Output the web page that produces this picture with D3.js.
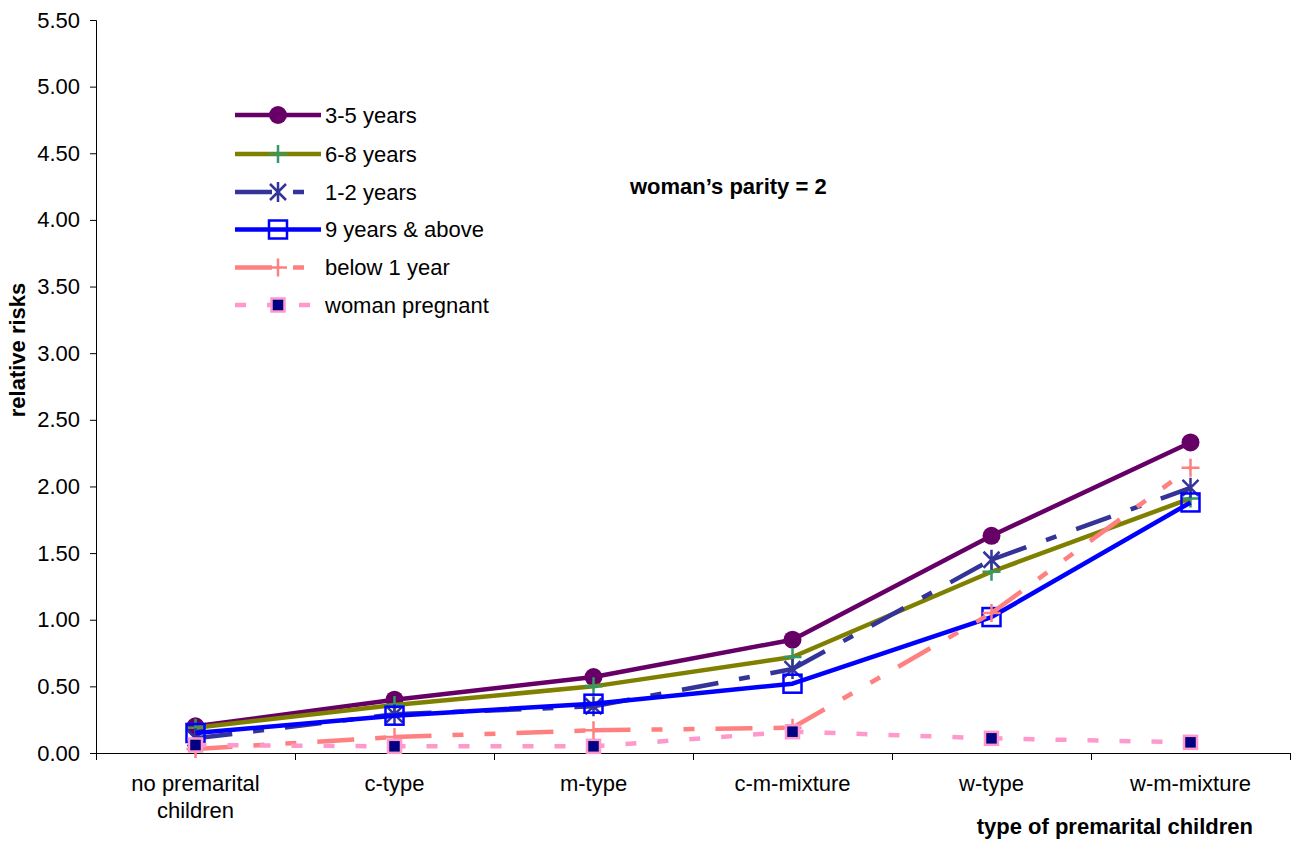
<!DOCTYPE html>
<html>
<head>
<meta charset="utf-8">
<script src="https://cdn.jsdelivr.net/npm/d3@7"></script>
<style>
  html, body { margin: 0; padding: 0; background: #fff; }
  svg { display: block; font-family: "Liberation Sans", Arial, sans-serif; }
</style>
</head>
<body>
<svg id="chart" width="1299" height="843"></svg>
<script>
// Categories along the x axis (multi-line labels split on "\n")
const categories = ["no premarital\nchildren", "c-type", "m-type", "c-m-mixture", "w-type", "w-m-mixture"];

// Relative risks by duration since birth of last child
const years3to5    = [0.20, 0.40, 0.57, 0.85, 1.63, 2.33];
const years6to8    = [0.19, 0.36, 0.50, 0.72, 1.36, 1.91];
const years1to2    = [0.11, 0.29, 0.35, 0.63, 1.45, 1.99];
const years9plus   = [0.15, 0.28, 0.37, 0.52, 1.02, 1.88];
const below1year   = [0.03, 0.12, 0.17, 0.19, 1.05, 2.14];
const womanPregnant= [0.06, 0.05, 0.05, 0.16, 0.11, 0.08];

const seriesNames = ["3-5 years", "6-8 years", "1-2 years", "9 years & above", "below 1 year", "woman pregnant"];

const yTicks = [0, 0.5, 1, 1.5, 2, 2.5, 3, 3.5, 4, 4.5, 5, 5.5];

const styles = [
  { color: "#660066", dash: null,                   marker: "circle" },
  { color: "#808000", dash: null,                   marker: "plus",   mcolor: "#339966" },
  { color: "#333399", dash: "37,21,11,21",          marker: "star" },
  { color: "#0000FF", dash: null,                   marker: "square" },
  { color: "#FF8080", dash: "37,21,11,21,11,21",    marker: "plus",   mcolor: "#FF8080" },
  { color: "#FF99CC", dash: "11,21",                marker: "filled", mcolor: "#000080" }
];

const series = [years3to5, years6to8, years1to2, years9plus, below1year, womanPregnant];

const svg = d3.select("#chart");
const FONT = 22;

const x = d3.scaleBand().domain(categories).range([96, 1290]);
const xc = c => x(c) + x.bandwidth() / 2;
const y = d3.scaleLinear().domain([0, 5.5]).range([753, 20]);

// y axis
const yAxis = d3.axisLeft(y).tickValues(yTicks).tickFormat(d3.format(".2f")).tickSize(6).tickPadding(10);
const gy = svg.append("g").attr("transform", "translate(96,0)").call(yAxis);
gy.select(".domain").attr("stroke", "#000").attr("stroke-width", 1);
gy.selectAll(".tick line").attr("stroke", "#000");
gy.selectAll(".tick text").attr("font-size", FONT).attr("fill", "#000")
  .attr("font-family", "Liberation Sans, Arial, sans-serif");

// x axis: ticks at the category boundaries
const xEdge = d3.scaleLinear().domain([0, categories.length]).range([96, 1290]);
const xAxis = d3.axisBottom(xEdge).tickValues(d3.range(categories.length + 1)).tickFormat("").tickSize(7).tickSizeOuter(0);
const gx = svg.append("g").attr("transform", "translate(0,753)").call(xAxis);
gx.select(".domain").attr("stroke", "#000").attr("stroke-width", 1);
gx.selectAll(".tick line").attr("stroke", "#000");

// category labels
categories.forEach(c => {
  const lines = c.split("\n");
  const t = svg.append("text").attr("x", xc(c)).attr("y", 791)
    .attr("text-anchor", "middle").attr("font-size", FONT).attr("fill", "#000");
  lines.forEach((ln, i) => {
    t.append("tspan").attr("x", xc(c)).attr("dy", i === 0 ? 0 : 27).text(ln);
  });
});

// axis titles
svg.append("text").attr("x", 1253).attr("y", 834).attr("text-anchor", "end")
  .attr("font-size", FONT).attr("font-weight", "bold").text("type of premarital children");
svg.append("text").attr("transform", "translate(25,350) rotate(-90)").attr("text-anchor", "middle")
  .attr("font-size", FONT).attr("font-weight", "bold").text("relative risks");

// annotation
svg.append("text").attr("x", 630).attr("y", 194)
  .attr("font-size", FONT).attr("font-weight", "bold").text("woman\u2019s parity = 2");

// marker drawing
function drawMarker(g, st, cx, cy) {
  const mc = st.mcolor || st.color;
  switch (st.marker) {
    case "circle":
      g.append("circle").attr("cx", cx).attr("cy", cy).attr("r", 9).attr("fill", st.color);
      break;
    case "plus":
      g.append("path").attr("d", `M${cx - 9},${cy}H${cx + 9}M${cx},${cy - 9}V${cy + 9}`)
        .attr("stroke", mc).attr("stroke-width", 2.5).attr("fill", "none");
      break;
    case "star":
      g.append("path").attr("d",
        `M${cx - 8},${cy - 8}L${cx + 8},${cy + 8}M${cx - 8},${cy + 8}L${cx + 8},${cy - 8}M${cx},${cy - 10}V${cy + 10}`)
        .attr("stroke", st.color).attr("stroke-width", 2.5).attr("fill", "none");
      break;
    case "square":
      g.append("rect").attr("x", cx - 9).attr("y", cy - 9).attr("width", 18).attr("height", 18)
        .attr("fill", "none").attr("stroke", st.color).attr("stroke-width", 2.5);
      break;
    case "filled":
      g.append("rect").attr("x", cx - 6.5).attr("y", cy - 6.5).attr("width", 13).attr("height", 13)
        .attr("fill", mc).attr("stroke", st.color).attr("stroke-width", 2.5);
      break;
  }
}

const line = d3.line().x(d => xc(categories[d.i])).y(d => y(d.v));

// series lines (dash pattern restarts on every segment) and markers
series.forEach((vals, si) => {
  const st = styles[si];
  const g = svg.append("g");
  const pts = vals.map((v, i) => ({ v, i }));
  if (st.dash) {
    d3.pairs(pts).forEach(seg => {
      g.append("path").datum(seg).attr("d", line)
        .attr("fill", "none").attr("stroke", st.color).attr("stroke-width", 4.5)
        .attr("stroke-dasharray", st.dash);
    });
  } else {
    g.append("path").datum(pts).attr("d", line)
      .attr("fill", "none").attr("stroke", st.color).attr("stroke-width", 4.5)
      .attr("stroke-linejoin", "round");
  }
  pts.forEach(p => drawMarker(g, st, xc(categories[p.i]), y(p.v)));
});

// legend
const legendRows = [115, 154, 192, 229.5, 267.5, 305];
seriesNames.forEach((name, si) => {
  const st = styles[si];
  const ly = legendRows[si];
  const g = svg.append("g");
  g.append("line").attr("x1", 235).attr("x2", 321).attr("y1", ly).attr("y2", ly)
    .attr("stroke", st.color).attr("stroke-width", 4.5).attr("stroke-dasharray", st.dash);
  drawMarker(g, st, 278, ly);
  g.append("text").attr("x", 325).attr("y", ly).attr("dy", "0.35em")
    .attr("font-size", FONT).attr("fill", "#000").text(name);
});
</script>
</body>
</html>
